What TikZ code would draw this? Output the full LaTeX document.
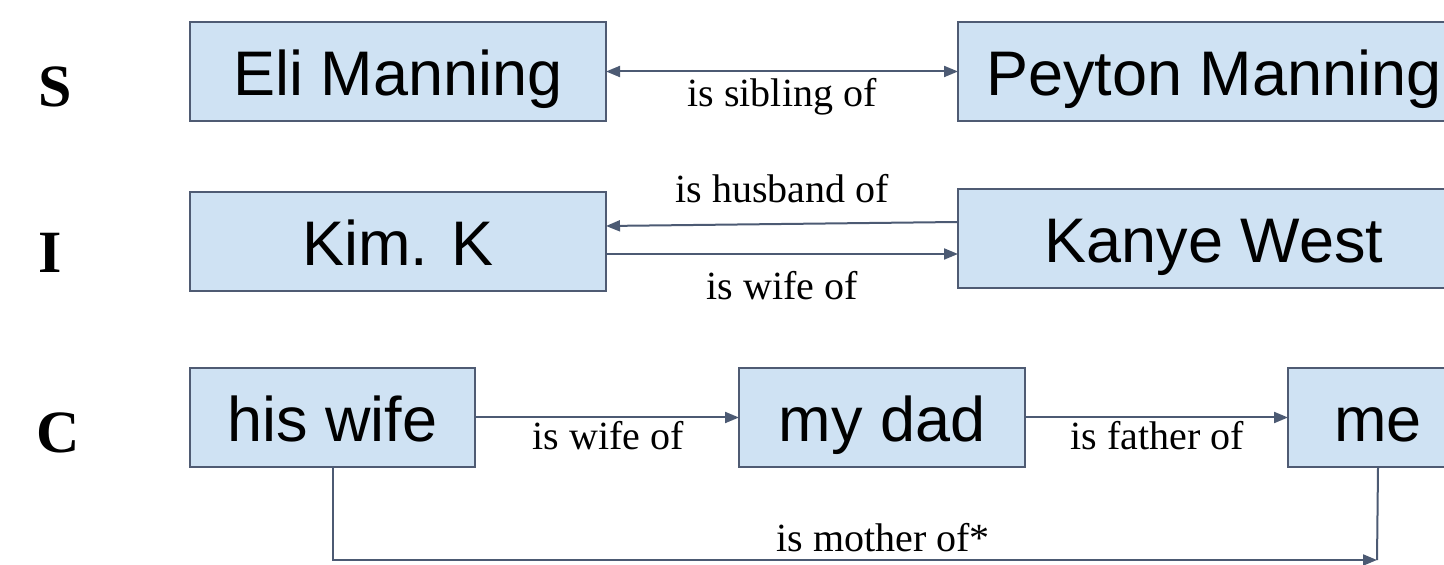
\documentclass[tikz,border=0pt]{standalone}
\usepackage{fontspec}
\setmainfont{Liberation Serif}
\newfontfamily\boxfont{Liberation Sans}
\usetikzlibrary{arrows.meta}
\definecolor{boxfill}{HTML}{CFE2F3}
\definecolor{boxline}{HTML}{4F5B73}
\definecolor{linkcol}{HTML}{4C5A73}
\tikzset{
  entity/.style={draw=boxline, fill=boxfill, line width=1pt, rectangle,
    inner sep=0pt, outer sep=0pt, minimum height=49.5pt,
    text height=24pt, text depth=0pt,
    font=\boxfont\fontsize{31.5}{36}\selectfont},
  link/.style={draw=linkcol, line width=1pt,
    -{Triangle[length=7pt,width=5.5pt]}},
  plain link/.style={draw=linkcol, line width=1pt},
  both link/.style={draw=linkcol, line width=1pt,
    {Triangle[length=7pt,width=5.5pt]}-{Triangle[length=7pt,width=5.5pt]}},
  rel/.style={anchor=base, inner sep=0pt, font=\fontsize{20}{24}\selectfont},
  rowtag/.style={anchor=base, inner sep=0pt, font=\bfseries\fontsize{30}{36}\selectfont},
}
\begin{document}
\begin{tikzpicture}[x=0.5pt, y=-0.5pt]
  \useasboundingbox (0,0) rectangle (1444,565);
  \clip (0,0) rectangle (1444,565);

  % row tags
  \node[rowtag] (tS) at (55,107) {S};
  \node[rowtag] (tI) at (50,273) {I};
  \node[rowtag] (tC) at (58,453) {C};

  % S: siblings
  \node[entity, minimum width=208pt] (eli) at (398,71.5) {Eli Manning};
  \node[entity, minimum width=256pt] (peyton) at (1214,71.5) {Peyton Manning};
  \draw[both link] (eli.east) -- (peyton.west);
  \node[rel] (lS) at (782,107) {is sibling of};

  % I: spouses
  \node[entity, minimum width=208pt] (kim) at (398,241.5) {Kim. K};
  \node[entity, minimum width=256pt] (kanye) at (1214,238.5) {Kanye West};
  \draw[link] ([yshift=8.25pt]kanye.west) -- ([yshift=7.75pt]kim.east);
  \draw[link] ([yshift=-6.25pt]kim.east) -- ([yshift=-7.75pt]kanye.west);
  \node[rel] (lI1) at (782,203) {is husband of};
  \node[rel] (lI2) at (782,300) {is wife of};

  % C: chain
  \node[entity, minimum width=142.5pt] (hw) at (332.5,417.5) {his wife};
  \node[entity, minimum width=143pt] (dad) at (882,417.5) {my dad};
  \node[entity, minimum width=90pt] (me) at (1378,417.5) {me};
  \draw[link] (hw.east) -- (dad.west);
  \draw[link] (dad.east) -- (me.west);
  \node[rel] (lC1) at (608,450) {is wife of};
  \node[rel] (lC2) at (1157,450) {is father of};

  \coordinate (mo) at (1377,560);
  \draw[link] (hw.south) |- (mo);
  \draw[plain link] (me.south) -- (mo);
  \node[rel] (lC3) at (883,552) {is mother of*};
\end{tikzpicture}
\end{document}
